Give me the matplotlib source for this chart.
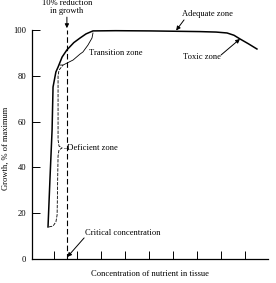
import matplotlib
matplotlib.use('Agg')
import matplotlib.pyplot as plt

plt.rcParams['font.family'] = ['Liberation Serif', 'DejaVu Serif']

# growth curve (x in tick units, y in % of maximum)
curve_x = [0.67, 0.75, 0.84, 0.88, 1.00, 1.09, 1.26, 1.46, 1.75, 2.01, 2.26, 2.55, 3.50, 4.94, 7.03, 7.70, 8.16, 8.45, 8.70, 9.05, 9.41]
curve_y = [14.0, 34.5, 56.3, 75.1, 81.7, 83.8, 88.2, 91.3, 94.5, 96.5, 98.3, 99.6, 99.7, 99.6, 99.3, 99.1, 98.7, 97.7, 96.1, 94.0, 91.7]

# brace for the deficient zone
defic_x = [0.71, 0.88, 1.00, 1.05, 1.09, 1.13, 1.26, 1.13, 1.09, 1.09, 1.13, 1.30]
defic_y = [14.0, 14.4, 16.2, 19.2, 45.0, 47.6, 48.5, 49.3, 52.0, 80.0, 82.5, 84.7]

# brace for the transition zone
trans_x = [1.18, 1.30, 1.72, 2.01, 2.13, 2.34, 2.51, 2.55]
trans_y = [84.7, 84.7, 86.9, 89.5, 90.4, 93.4, 96.5, 98.7]

crit_x = 1.46
x_ticks = [0.9, 1.9, 2.9, 3.9, 4.9, 5.9, 6.9, 7.9, 8.9]
y_ticks = [0, 20, 40, 60, 80, 100]


def make_graph():
	fig = plt.figure(figsize=(2.76, 2.83), dpi=100)
	ax = fig.add_axes([32/276, 24/283, 240/276, 259/283])
	ax.set_xlim(0, 10.04)
	ax.set_ylim(0, 113.1)

	ax.plot(curve_x, curve_y, color='k', lw=1.1)
	ax.plot(defic_x, defic_y, color='k', lw=0.6, ls=(0, (4, 1.5)))
	ax.plot(trans_x, trans_y, color='k', lw=0.6)
	ax.plot([crit_x, crit_x], [0, 100.0], color='k', lw=0.8, ls=(0, (5, 2.5)))

	for s in ['top', 'right']:
		ax.spines[s].set_visible(False)
	ax.spines['left'].set_bounds(0, 100)
	ax.spines['bottom'].set_bounds(0, 9.87)
	ax.spines['left'].set_linewidth(0.9)
	ax.spines['bottom'].set_linewidth(0.9)

	fs = 6.1
	ax.set_xticks(x_ticks)
	ax.set_xticklabels([])
	ax.set_yticks(y_ticks)
	ax.set_yticklabels([str(v) for v in y_ticks], fontsize=fs)
	ax.tick_params(axis='both', direction='in', length=6, width=0.7, pad=4)

	arrow = dict(arrowstyle='-|>', lw=0.7, color='k', mutation_scale=6, shrinkA=0, shrinkB=0)

	ax.text(crit_x, 110.0, '10% reduction\nin growth', ha='center', va='center',
		fontsize=fs, linespacing=0.95)
	ax.annotate('', xy=(crit_x, 100.8), xytext=(crit_x, 105.6), arrowprops=arrow)

	ax.text(7.32, 107.0, 'Adequate zone', ha='center', va='center', fontsize=fs)
	ax.annotate('', xy=(6.03, 99.8), xytext=(6.36, 104.4), arrowprops=arrow)

	ax.text(7.11, 88.2, 'Toxic zone', ha='center', va='center', fontsize=fs)
	ax.annotate('', xy=(8.70, 96.1), xytext=(7.91, 89.1), arrowprops=arrow)

	ax.text(2.38, 90.0, 'Transition zone', ha='left', va='center', fontsize=fs)
	ax.text(1.30, 48.5, '\u2013Deficient zone', ha='left', va='center', fontsize=fs)

	ax.text(2.22, 11.4, 'Critical concentration', ha='left', va='center', fontsize=fs)
	ax.annotate('', xy=(1.48, 0.9), xytext=(2.18, 9.2), arrowprops=arrow)

	fig.text(150/276, 1 - 274/283, 'Concentration of nutrient in tissue',
		ha='center', va='center', fontsize=fs)
	fig.text(6/276, 1 - 148/283, 'Growth, % of maximum', rotation=90,
		ha='center', va='center', fontsize=fs)

	fig.savefig('out.png', dpi=100, facecolor='white')


def main():
	make_graph()


if __name__ == "__main__":
	main()
